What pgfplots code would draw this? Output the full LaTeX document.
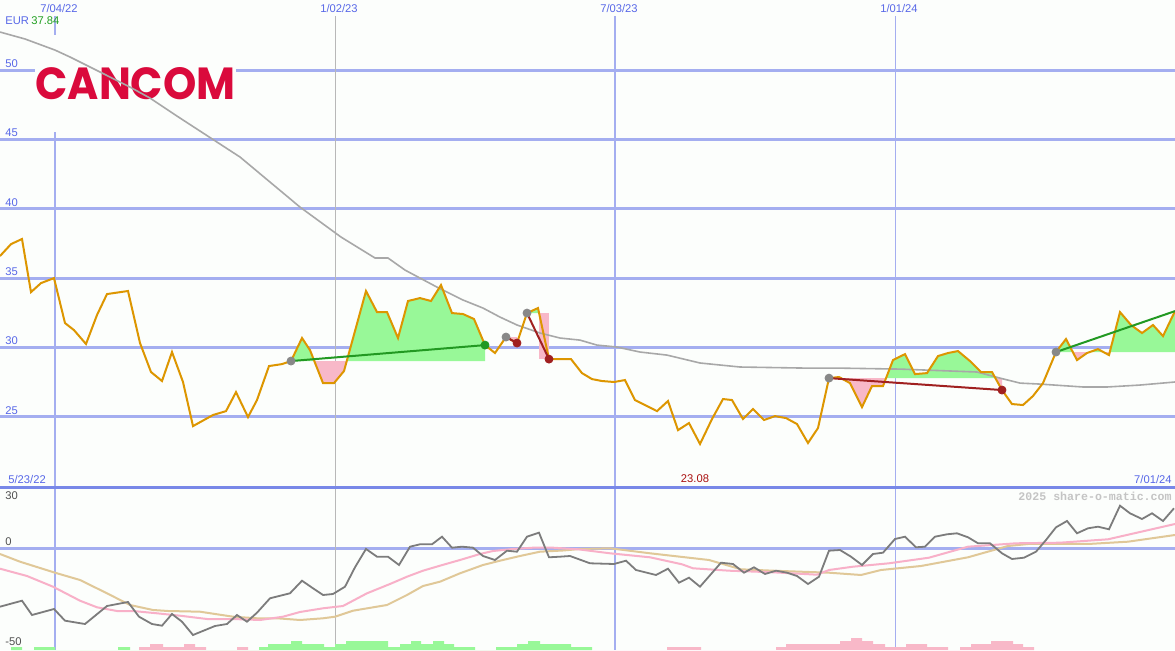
\documentclass[border=0pt]{standalone}
\usepackage{graphicx}
\usepackage{pgfplots}
\pgfplotsset{compat=1.18}
\usepackage{fontspec}
\setmainfont{Liberation Sans}
\newfontfamily\monofont{Liberation Mono}
\newfontfamily\logofont{Poppins}
\definecolor{bgc}{HTML}{FCFEFC}
\definecolor{gridblue}{HTML}{A4AEF0}
\definecolor{sepblue}{HTML}{7888E8}
\definecolor{thingray}{HTML}{B8B8B8}
\definecolor{labblue}{HTML}{5868E8}
\definecolor{eurgreen}{HTML}{22A022}
\definecolor{logored}{HTML}{DA0A3C}
\definecolor{pricec}{RGB}{221,150,0}
\definecolor{magray}{HTML}{A8A8A8}
\definecolor{fillgreen}{HTML}{98F898}
\definecolor{fillpink}{HTML}{F8B8C8}
\definecolor{siggreen}{HTML}{229922}
\definecolor{sigred}{HTML}{A02020}
\definecolor{dotgray}{HTML}{888888}
\definecolor{oscgray}{HTML}{7C7C7C}
\definecolor{oscpink}{HTML}{F8B0C8}
\definecolor{osctan}{HTML}{E0C898}
\definecolor{labdark}{HTML}{505050}
\definecolor{labred}{HTML}{AA1111}
\definecolor{wmgray}{HTML}{C4C4C4}
\begin{document}
\begin{tikzpicture}
\fill[bgc] (0,0) rectangle (587.5pt,325pt);
% ---------- grid and logo (pixel coordinates, origin top-left) ----------
\begin{scope}[x=0.5pt,y=-0.5pt,shift={(0pt,325pt)}]
  \foreach \yy in {70,139.35,208.7,278.05,347.4,416.75}
    \draw[gridblue,line width=1.5pt] (0,\yy) -- (1175,\yy);
  \draw[gridblue,line width=1.5pt] (0,548) -- (1175,548);
  \draw[gridblue,line width=1pt] (55,16) -- (55,650);
  \draw[gridblue,line width=1pt] (615,16) -- (615,650);
  \draw[thingray,line width=0.5pt] (335,16) -- (335,650);
  \draw[gridblue,line width=0.5pt] (895,16) -- (895,650);
  \draw[sepblue,line width=1.5pt] (0,487) -- (1175,487);
  \fill[bgc] (35,35) rectangle (236,132);
  \node[inner sep=0pt,text=logored] at (135.5,83.5) {\resizebox{100pt}{16pt}{\logofont\bfseries CANCOM}};
\end{scope}
% ---------- upper price panel ----------
\begin{axis}[at={(0pt,81.5pt)},anchor=south west,scale only axis,
  width=587.5pt,height=243.5pt,xmin=0,xmax=1175,ymin=19.94,ymax=55.05,hide axis]
% trade fills
\addplot[fill=fillgreen,draw=none] coordinates {(291,29.02)(302,30.68)(310,29.81)(314.3,29.02)} -- cycle;
\addplot[fill=fillpink,draw=none] coordinates {(314.3,29.02)(323,27.43)(334,27.43)(344,28.30)(346.7,29.02)} -- cycle;
\addplot[fill=fillgreen,draw=none] coordinates {(346.7,29.02)(366,34.07)(377,32.55)(387,32.55)(398,30.68)(408,33.35)(420,33.56)(431,33.35)(441,34.50)(452,32.48)(463,32.41)(474,32.05)(485,30.17)(485,29.02)} -- cycle;
\addplot[fill=fillpink,draw=none] coordinates {(506,30.75)(517,30.32)(517,30.75)} -- cycle;
\addplot[fill=fillgreen,draw=none] coordinates {(527,32.48)(538,32.84)(539.1,32.48)} -- cycle;
\addplot[fill=fillpink,draw=none] coordinates {(539,32.48)(549,32.48)(549,29.16)(539,29.16)} -- cycle;
\addplot[fill=fillgreen,draw=none] coordinates {(829,27.79)(839,27.87)(841,27.79)} -- cycle;
\addplot[fill=fillpink,draw=none] coordinates {(841,27.79)(850,27.43)(862,25.70)(872,27.22)(883,27.22)(886,27.79)} -- cycle;
\addplot[fill=fillgreen,draw=none] coordinates {(886,27.79)(893,29.09)(905,29.52)(915,28.08)(927,28.15)(938,29.38)(948,29.60)(958,29.74)(970,29.02)(981,28.23)(992,28.23)(995.4,27.79)} -- cycle;
\addplot[fill=fillpink,draw=none] coordinates {(995.4,27.79)(1002,26.93)(1002,27.79)} -- cycle;
\addplot[fill=fillgreen,draw=none] coordinates {(1056,29.67)(1066,30.61)(1072.8,29.67)} -- cycle;
\addplot[fill=fillpink,draw=none] coordinates {(1072.8,29.67)(1077,29.09)(1087,29.60)(1089.75,29.67)} -- cycle;
\addplot[fill=fillgreen,draw=none] coordinates {(1089.75,29.67)(1098,29.88)(1104.4,29.67)} -- cycle;
\addplot[fill=fillpink,draw=none] coordinates {(1104.4,29.67)(1109,29.45)(1109.8,29.67)} -- cycle;
\addplot[fill=fillgreen,draw=none] coordinates {(1109.8,29.67)(1120,32.55)(1131,31.62)(1142,31.04)(1153,31.62)(1163,30.82)(1175,32.62)(1175,29.67)} -- cycle;
% moving average
\addplot[magray,line width=0.8pt] coordinates {
(0,52.74)(25,52.24)(55,51.44)(70,50.94)(100,49.86)(130,48.77)(150,47.98)(180,46.54)
(240,43.73)(300,40.12)(341,37.96)(375,36.45)(388,36.45)(405,35.58)(437,34.35)(463,33.42)
(483,32.84)(500,32.19)(517,31.62)(540,31.04)(560,30.68)(580,30.53)(597,30.17)(617,30.03)
(640,29.67)(667,29.45)(700,28.88)(740,28.59)(807,28.51)(840,28.51)(900,28.44)(977,28.23)
(1000,27.79)(1020,27.43)(1040,27.36)(1083,27.15)(1107,27.15)(1140,27.29)(1175,27.51)};
% price
\addplot[pricec,line width=1pt] coordinates {
(0,36.59)(11,37.45)(22,37.82)(31,33.99)(41,34.64)(54,35.00)(65,31.76)(74,31.25)(86,30.25)
(97,32.34)(107,33.85)(128,34.07)(140,30.32)(151,28.23)(162,27.58)(172,29.67)(183,27.51)
(193,24.33)(213,25.13)(226,25.41)(236,26.78)(248,24.98)(257,26.21)(269,28.66)(282,28.80)
(291,29.02)(302,30.68)(310,29.81)(323,27.43)(334,27.43)(344,28.30)(366,34.07)(377,32.55)
(387,32.55)(398,30.68)(408,33.35)(420,33.56)(431,33.35)(441,34.50)(452,32.48)(463,32.41)
(474,32.05)(485,30.17)(495,29.60)(506,30.75)(517,30.32)(527,32.48)(538,32.84)(549,29.16)
(571,29.16)(582,28.15)(592,27.72)(602,27.58)(614,27.51)(625,27.65)(635,26.21)(657,25.41)
(668,26.14)(678,24.04)(689,24.55)(700,23.04)(712,24.84)(723,26.28)(732,26.21)(743,24.84)
(753,25.56)(764,24.77)(775,25.05)(786,24.91)(797,24.48)(808,23.11)(818,24.19)(829,27.79)
(839,27.87)(850,27.43)(862,25.70)(872,27.22)(883,27.22)(893,29.09)(905,29.52)(915,28.08)
(927,28.15)(938,29.38)(948,29.60)(958,29.74)(970,29.02)(981,28.23)(992,28.23)(1002,26.93)
(1012,25.92)(1023,25.85)(1033,26.50)(1043,27.43)(1056,29.67)(1066,30.61)(1077,29.09)
(1087,29.60)(1098,29.88)(1109,29.45)(1120,32.55)(1131,31.62)(1142,31.04)(1153,31.62)
(1163,30.82)(1175,32.62)};
% trade lines
\addplot[siggreen,line width=1pt] coordinates {(291,29.02)(485,30.17)};
\addplot[sigred,line width=1pt] coordinates {(506,30.75)(517,30.32)};
\addplot[sigred,line width=1pt] coordinates {(527,32.48)(549,29.16)};
\addplot[sigred,line width=1pt] coordinates {(829,27.79)(1002,26.93)};
\addplot[siggreen,line width=1pt] coordinates {(1056,29.67)(1175,32.62)};
% markers
\addplot[only marks,mark=*,mark size=2pt,mark options={draw=dotgray,fill=dotgray}] coordinates {(291,29.02)(506,30.75)(527,32.48)(829,27.79)(1056,29.67)};
\addplot[only marks,mark=*,mark size=2pt,mark options={draw=siggreen,fill=siggreen}] coordinates {(485,30.17)};
\addplot[only marks,mark=*,mark size=2pt,mark options={draw=sigred,fill=sigred}] coordinates {(517,30.32)(549,29.16)(1002,26.93)};
\end{axis}
% ---------- lower oscillator panel ----------
\begin{axis}[at={(0pt,0pt)},anchor=south west,scale only axis,
  width=587.5pt,height=81.5pt,xmin=0,xmax=1175,ymin=-51,ymax=30.5,hide axis]
\addplot[fill=fillgreen,draw=none,const plot mark left] coordinates {
(11,-51)(11,-49.5)(22,-51)(34,-49.5)(55,-51)(118,-49.5)(130,-51)(259,-49.5)(268,-48)(291,-46.5)
(302,-48)(324,-49.5)(335,-48)(346,-46.5)(388,-49.5)(400,-48)(411,-46.5)(421,-48)(433,-46.5)
(444,-48)(454,-49.5)(475,-51)(496,-49.5)(517,-48)(528,-46.5)(540,-48)(571,-49.5)(592,-51)} -- cycle;
\addplot[fill=fillpink,draw=none,const plot mark left] coordinates {
(139,-51)(139,-49.5)(150,-48)(163,-49.5)(184,-48)(195,-49.5)(206,-51)(237,-49.5)(248,-51)
(667,-49.5)(701,-51)(776,-49.5)(786,-48)(840,-46.5)(851,-45)(862,-46.5)(873,-48)(885,-49.5)
(906,-48)(927,-49.5)(948,-51)(960,-49.5)(971,-48)(991,-46.5)(1013,-48)(1023,-49.5)(1034,-51)} -- cycle;
\addplot[osctan,line width=1pt] coordinates {
(0,-3)(20,-6.85)(55,-12.35)(80,-16)(107,-22.65)(130,-28.5)(153,-31)(168,-31.5)(200,-31.85)
(233,-34.35)(257,-35.15)(280,-35.25)(300,-36)(323,-35.15)(335,-34.35)(353,-31.35)(387,-28.5)
(407,-23.5)(423,-19)(440,-16.85)(460,-12.65)(483,-8.5)(500,-6.35)(520,-4)(540,-1.85)
(563,-1.25)(580,-0.5)(610,-0.15)(650,-2.65)(709,-6)(741,-10.65)(773,-11.35)(829,-12.35)
(861,-13.5)(881,-11)(921,-9)(968,-4.65)(1008,1)(1028,2)(1088,2)(1128,3.15)(1175,6.5)};
\addplot[oscpink,line width=1pt] coordinates {
(0,-10.35)(27,-14)(53,-19.35)(80,-26.35)(97,-29.65)(117,-31.5)(133,-31.5)(157,-32.65)
(180,-33.85)(207,-35.5)(233,-35.5)(260,-36)(283,-34.35)(300,-32)(323,-30.15)(343,-29)
(367,-22.65)(390,-18)(407,-14.35)(423,-11.35)(440,-8.85)(460,-6)(480,-3)(493,-1.5)
(513,-0.5)(533,0.15)(553,0.15)(578,-0.65)(610,-2.65)(650,-4.65)(682,-8.15)(693,-10.15)
(729,-11.35)(773,-12.15)(817,-13.35)(829,-11)(853,-9.35)(889,-7.65)(929,-4.85)(968,0.65)
(1016,2.35)(1060,2.65)(1108,4.35)(1175,12)};
\addplot[oscgray,line width=0.9pt] coordinates {
(0,-29.35)(22,-26.35)(32,-33.5)(54,-30.5)(65,-36.35)(85,-38)(107,-29)(128,-27)(139,-34.35)
(152,-38)(162,-38.85)(172,-33)(182,-36.85)(193,-43.5)(215,-39)(227,-38)(237,-33.5)(247,-36.85)
(257,-32.35)(270,-25.15)(290,-22.65)(302,-16.35)(313,-20.15)(323,-23.5)(333,-23)(345,-19.35)
(355,-9.65)(366,-0.5)(377,-4.35)(388,-4.35)(399,-8.5)(410,0.65)(420,1.85)(432,1.85)(442,5.65)
(452,0.15)(462,0.65)(473,0.15)(483,-4)(495,-6)(507,-1.35)(517,-1.85)(527,5.65)(539,7.65)
(549,-4.65)(560,-4.35)(570,-4)(590,-7.65)(614,-8)(626,-6.35)(636,-11)(656,-13.5)(668,-10.35)
(679,-17.35)(689,-14.85)(700,-19.35)(721,-7.35)(733,-8)(744,-12.35)(754,-9.65)(765,-13)
(776,-11.35)(787,-12.35)(797,-14)(808,-18)(819,-14.35)(829,-1.35)(840,-1)(851,-4.35)(862,-8.5)
(873,-3)(883,-2.35)(895,4.5)(905,5.65)(916,0.35)(925,0.65)(935,5.65)(947,6.85)(957,7.35)
(968,5.35)(978,2.35)(990,2.35)(1002,-2.65)(1012,-5.5)(1024,-4.85)(1036,-1.85)(1046,4)
(1056,10.35)(1067,13.5)(1077,7.35)(1088,9.85)(1098,10.65)(1109,9.35)(1120,21.15)(1130,17.35)
(1142,14.5)(1152,17.35)(1163,13.5)(1174,19.85)};
\end{axis}
% ---------- text labels (pixel coordinates) ----------
\begin{scope}[x=0.5pt,y=-0.5pt,shift={(0pt,325pt)},
  every node/.style={inner sep=0pt,font=\fontsize{5.6pt}{6pt}\selectfont}]
  \node[text=labblue] at (59,8.5) {7/04/22};
  \node[text=labblue] at (339,8.5) {1/02/23};
  \node[text=labblue] at (619,8.5) {7/03/23};
  \node[text=labblue] at (899,8.5) {1/01/24};
  \node[text=labblue,anchor=west] at (5,21) {EUR};
  \node[text=eurgreen,anchor=west] at (31,21) {37.84};
  \node[text=labblue,anchor=west] at (5,64) {50};
  \node[text=labblue,anchor=west] at (5,133) {45};
  \node[text=labblue,anchor=west] at (5,202.5) {40};
  \node[text=labblue,anchor=west] at (5,272) {35};
  \node[text=labblue,anchor=west] at (5,341) {30};
  \node[text=labblue,anchor=west] at (5,410.5) {25};
  \node[text=labblue,anchor=west] at (8,479) {5/23/22};
  \node[text=labred] at (695,479) {23.08};
  \node[text=labblue,anchor=east] at (1172,479) {7/01/24};
  \node[text=labdark,anchor=west] at (5,496) {30};
  \node[text=labdark,anchor=west] at (5,542) {0};
  \node[text=labdark,anchor=west] at (5,642) {-50};
  \node[text=wmgray,anchor=east,font=\fontsize{5.8pt}{6pt}\monofont\bfseries] at (1172,496) {2025 share-o-matic.com};
\end{scope}
\pgfresetboundingbox
\path[use as bounding box] (0,0) rectangle (587.5pt,325pt);
\end{tikzpicture}
\end{document}
